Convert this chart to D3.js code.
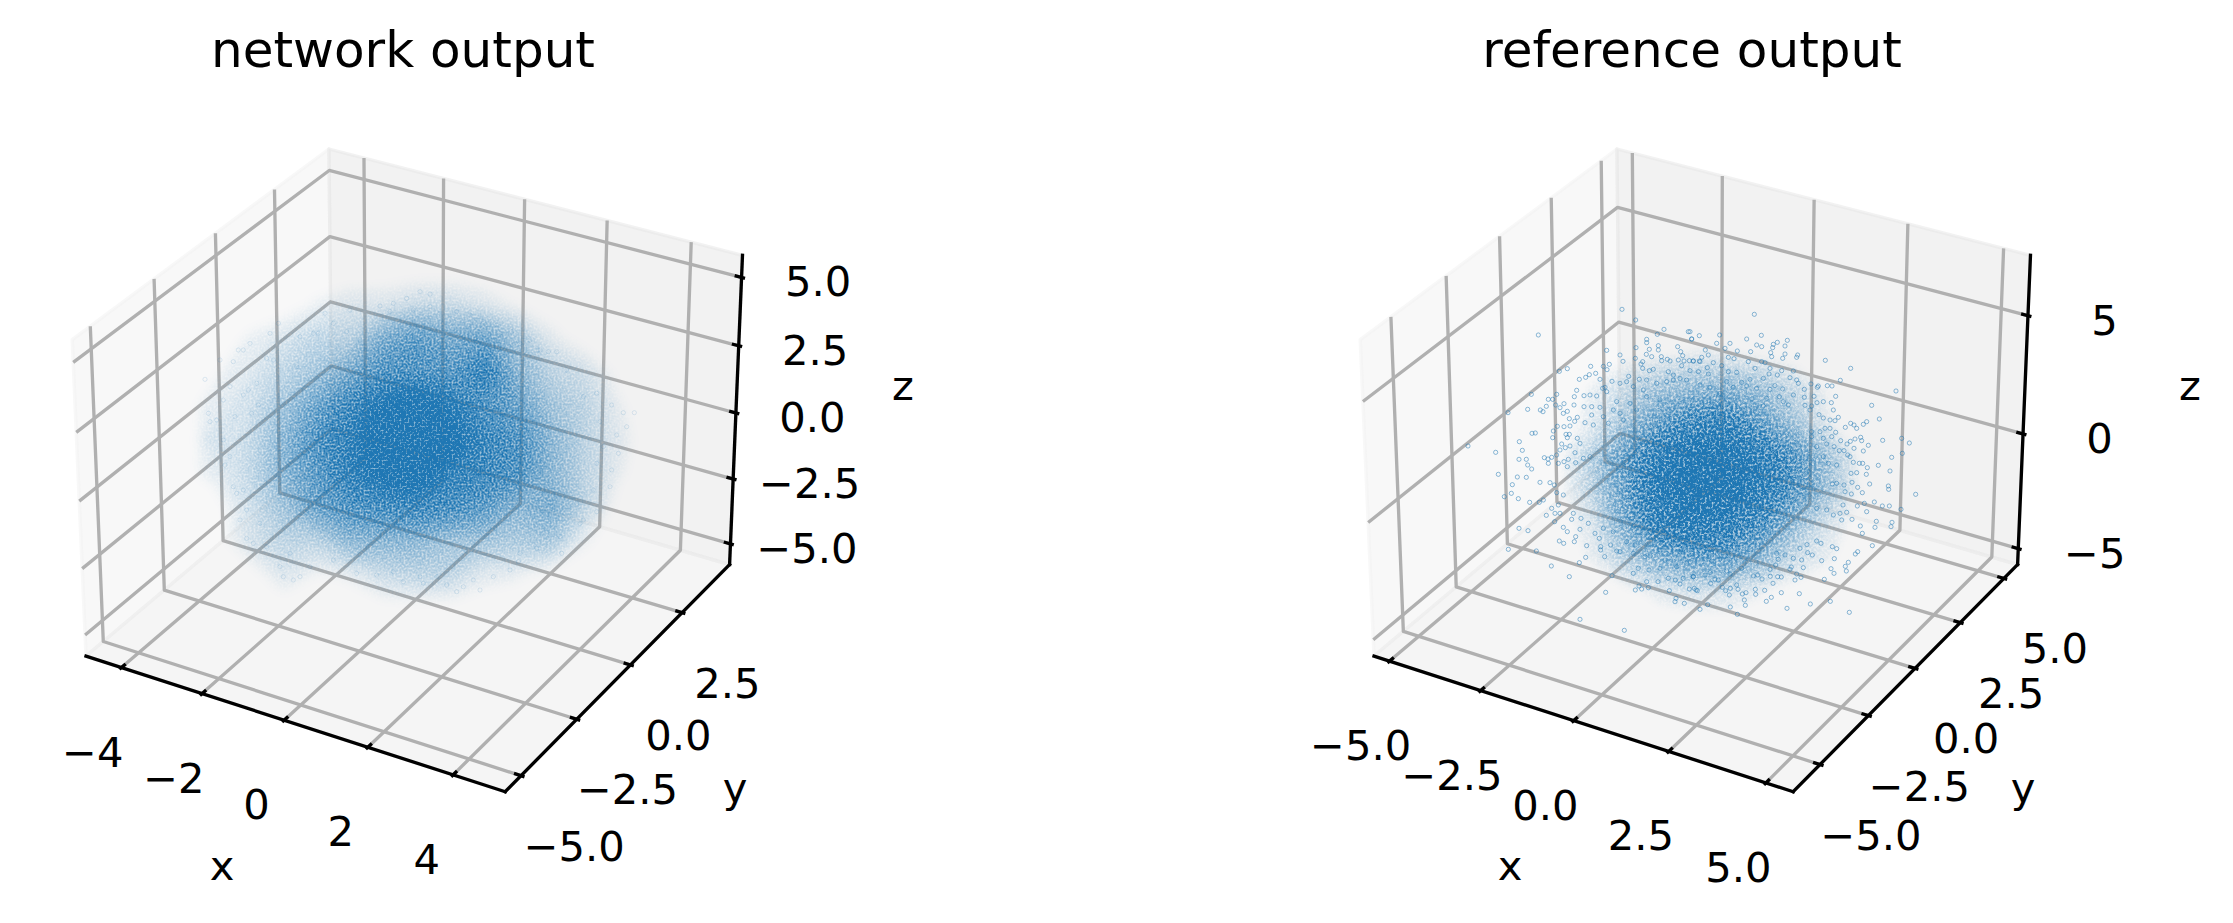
<!DOCTYPE html>
<html><head><meta charset="utf-8">
<script src="https://cdnjs.cloudflare.com/ajax/libs/d3/7.8.5/d3.min.js"></script>
<style>html,body{margin:0;padding:0;background:#fff}svg{display:block}text{font-family:"DejaVu Sans";fill:#000}</style>
</head><body>
<svg id="chart" width="2233" height="923"></svg>
<script>
// ---- axis limits and tick labels
const leftTitle = "network output", rightTitle = "reference output";
const leftXLim = [-4.69, 5.0], leftYLim = [-5.48, 4.68], leftZLim = [-5.57, 5.57];
const rightXLim = [-5.21, 5.47], rightYLim = [-6.11, 5.56], rightZLim = [-5.44, 7.23];
const leftXTicks = [-4, -2, 0, 2, 4], leftYTicks = [-5, -2.5, 0, 2.5], leftZTicks = [-5, -2.5, 0, 2.5, 5];
const rightXTicks = [-5, -2.5, 0, 2.5, 5], rightYTicks = [-5, -2.5, 0, 2.5, 5], rightZTicks = [-5, 0, 5];

// ---- cloud density (0 = empty, 10 = solid), per image-plane cell
const leftDensityU = [50,150,250,350,450,550,650,750,850,950,1050,1150,1250,1350];
const leftDensityV = [-50,50,150,250,350,450,550,650,750,850,950];
const leftDensity = [
 [0,0,0,0,0,0,0,0,0,0,0,0,0,0],
 [0,0,0,.3,.5,.5,.8,.8,.5,.2,0,0,0,0],
 [0,.3,.6,1,1,2.5,3.5,2.5,3,1.5,.4,0,0,0],
 [.2,.5,1,1.5,2.5,4,4,3.5,6,2,1,.7,.1,0],
 [.4,.7,1.5,3,5,8,10,7,4,3,1.5,1,.3,0],
 [.6,.8,2,4,6,10,10,9,5.5,4,2,1,.4,0],
 [.4,.9,2,3.5,6,8.5,10,6,5,4,2,1,.3,0],
 [0,.7,1.5,3,4,4.5,5,4.5,3.5,2,2.5,1,0,0],
 [0,.6,1,1,2,2,2,1.5,1.5,1.3,1.5,.3,0,0],
 [0,0,.5,.2,.3,.8,1,1,.4,.3,0,0,0,0],
 [0,0,0,0,0,0,0,0,0,0,0,0,0,0]];
const rightDensityU = [300,400,500,600,700,800,900,1000,1100,1200];
const rightDensityV = [70,170,270,370,470,570,670,770,870,970];
const rightDensity = [
 [0,0,0,0,0,0,0,0,0,0],
 [0,0,.1,.2,.3,.3,.2,0,0,0],
 [0,.3,.8,1.5,1.8,2,1.5,.8,.2,0],
 [0,.4,1.5,3,4.5,5,3,1.5,.3,0],
 [.1,1.2,3,6,9,8,6,3.5,1.5,.1],
 [.1,1,3,7,10,9,6,3.5,1.5,.1],
 [0,.5,2.5,5.5,7,6,4,1.8,.6,0],
 [0,.3,1.2,2.2,3,3,2,.8,.3,0],
 [0,0,.1,.4,.6,.6,.3,0,0,0],
 [0,0,0,0,0,0,0,0,0,0]];

// ---- individual markers, one list per crop of the image plane
const leftHalo = [[150,160],[115,180],[130,180],[100,215],[60,210],[15,268],[70,330],[130,315],[175,345],[50,390],[25,370],[105,380],[155,370],[30,395],[1270,368],[1303,368],[1235,345],[1280,410],[1250,435],[1255,490],[1235,540],[1230,590],[1190,665],[1150,690],[1085,790],[955,815],[1070,185],[1045,185],[1015,180],[990,150],[935,125],[890,105],[850,95],[810,75],[770,65],[720,70],[690,50],[660,5],[690,12],[620,25],[570,65],[540,48],[580,40],[450,60],[375,70],[235,100],[210,130],[300,140],[340,130],[355,130],[250,860],[280,870],[300,860],[240,830],[530,855],[610,875],[670,880],[740,885],[790,890],[770,905],[840,900],[710,860],[930,840],[120,690],[140,745],[160,760],[90,500],[75,525],[110,610],[130,600],[70,450],[200,205],[220,210],[145,300],[170,280],[90,290],[290,230],[400,100],[440,125],[480,150],[640,60],[730,100],[900,130],[960,160],[1100,240],[1150,320],[1190,310],[1200,395],[1210,470],[1190,520],[1180,600],[1130,640],[1140,700],[1080,740],[1010,775],[960,790],[1020,180],[880,860],[820,870],[660,860],[580,845],[470,850],[400,810],[330,830],[270,790],[200,770],[180,700],[140,660],[100,590]];

const rightTL = [[486,28],[527,60],[235,105],[685,95],[695,117],[612,88],[592,103],[560,118],[560,128],[595,137],[653,140],[528,143],[440,151],[568,148],[595,150],[480,165],[559,163],[662,155],[668,167],[575,170],[604,170],[605,182],[489,184],[526,175],[548,185],[655,180],[672,183],[688,182],[700,183],[718,183],[622,178],[630,183],[543,192],[665,197],[392,199],[448,193],[430,199],[441,209],[322,206],[298,214],[407,220],[388,224],[377,232],[358,238],[420,238],[456,244],[506,229],[538,238],[560,240],[568,212],[580,208],[548,205],[625,215],[640,225],[690,212],[715,215],[350,271],[214,283],[290,283],[343,290],[265,298],[278,298],[390,285],[372,287],[410,288],[312,311],[287,315],[259,319],[203,328],[241,330],[249,335],[144,338],[300,323],[322,334],[310,340],[342,315],[372,320],[395,320],[420,322],[395,345],[352,352],[344,364],[328,356],[375,368],[312,380],[292,379],[330,378],[400,375],[280,393],[216,400],[226,399],[278,413],[318,403],[328,403],[322,413],[178,425],[24,438],[187,451],[107,457],[305,432],[316,443],[345,458],[352,415],[360,430],[330,438],[300,450],[290,465],[253,473],[275,472],[264,477],[265,490],[177,478],[199,478],[203,495],[215,507],[295,490],[325,478],[312,485],[322,500],[347,488],[370,475],[390,470],[435,262],[428,265],[440,275],[470,305],[480,250],[500,245],[520,260],[550,270],[460,330],[480,340],[430,350],[445,370],[490,360],[510,310],[530,330],[560,290],[590,250],[620,245],[640,240],[660,235],[680,240],[600,300]];
const rightTR = [[193,43],[0,95],[28,107],[89,105],[214,106],[170,117],[292,121],[262,127],[5,117],[120,130],[80,130],[105,145],[200,135],[215,140],[250,133],[285,138],[248,143],[142,153],[46,150],[182,155],[242,158],[55,165],[35,172],[115,172],[132,176],[245,170],[285,162],[278,175],[320,172],[323,165],[406,181],[10,183],[30,185],[70,188],[215,185],[225,188],[175,185],[95,197],[52,203],[482,205],[195,205],[240,205],[310,213],[275,212],[262,225],[140,217],[55,222],[115,215],[237,222],[451,241],[300,233],[320,240],[180,238],[220,235],[110,245],[155,247],[363,252],[412,257],[426,258],[385,258],[382,262],[255,257],[278,267],[325,250],[343,268],[618,273],[240,268],[200,265],[170,258],[130,262],[90,280],[60,262],[30,255],[372,289],[437,289],[310,285],[343,292],[268,290],[230,295],[186,297],[545,316],[400,305],[424,308],[381,308],[280,305],[365,318],[345,316],[295,315],[220,318],[195,325],[430,330],[387,344],[400,354],[445,352],[360,330],[568,357],[420,360],[435,362],[530,365],[520,373],[482,370],[492,375],[466,382],[500,385],[405,385],[420,385],[390,395],[437,397],[365,395],[635,415],[578,421],[512,412],[495,417],[515,422],[658,429],[400,415],[425,410],[452,422],[481,424],[471,432],[535,436],[637,460],[605,472],[520,453],[448,452],[462,452],[492,445],[473,465],[432,440],[410,432],[490,487],[508,490],[518,490],[565,496],[532,503],[480,470],[400,470],[415,490],[440,495],[380,440],[365,410]];
const rightBL = [[115,13],[172,21],[199,22],[157,44],[240,37],[270,38],[283,45],[133,80],[154,70],[175,86],[209,97],[238,97],[250,90],[290,68],[310,75],[275,115],[295,105],[259,136],[285,130],[300,130],[335,148],[284,155],[363,145],[385,160],[340,130],[177,175],[204,182],[310,172],[322,185],[360,178],[298,213],[311,220],[343,215],[347,200],[380,227],[145,238],[229,243],[422,230],[422,240],[452,225],[470,243],[434,260],[377,262],[358,278],[274,288],[328,320],[456,317],[437,367],[526,360],[545,357],[565,353],[537,348],[360,448],[493,481],[594,335],[625,325],[646,330],[660,342],[628,362],[645,395],[673,400],[648,385],[520,310],[535,295],[567,300],[600,295],[560,335],[480,245],[520,250],[570,258],[615,270],[680,280],[700,320],[688,357],[703,355],[712,362],[418,205],[405,190],[430,175],[460,185],[500,215],[525,225],[555,260],[600,240],[650,290],[670,325]];
const rightBR = [[600,3],[677,73],[595,48],[596,58],[539,42],[529,13],[500,8],[483,10],[503,52],[517,68],[486,37],[462,45],[440,40],[427,42],[465,65],[484,72],[553,96],[577,108],[598,108],[523,100],[502,108],[633,118],[530,125],[459,105],[470,127],[450,130],[559,154],[606,157],[603,170],[555,172],[511,168],[486,148],[455,150],[430,135],[410,120],[380,115],[517,190],[547,227],[503,245],[496,252],[440,236],[427,230],[433,266],[395,272],[475,277],[466,289],[423,296],[469,303],[432,310],[403,328],[340,293],[367,255],[353,248],[330,235],[393,220],[380,213],[351,224],[421,394],[478,427],[361,402],[328,371],[291,415],[229,394],[244,382],[274,368],[224,361],[196,358],[197,373],[168,368],[157,372],[163,390],[166,406],[121,411],[142,433],[30,418],[53,404],[118,375],[107,362],[97,352],[121,355],[144,358],[140,345],[18,360],[62,340],[75,328],[85,330],[190,318],[203,315],[216,327],[241,319],[263,320],[274,321],[249,340],[333,322],[315,330],[320,312],[300,298],[304,291],[240,298],[257,285],[110,303],[120,312],[155,295],[265,268],[260,250],[285,255],[310,265],[335,270],[10,320],[45,315],[60,308]];

// ---- drawing
const BLUE = "#1f77b4", GRID = "#b0b0b0", LW = 3.33;
const svg = d3.select("#chart");

// grain filter: gives the solid density fields the speckle of overlapping tiny markers
const defs = svg.append("defs");
function grainFilter(id, blur, k1, k2, freq) {
  const f = defs.append("filter").attr("id", id).attr("filterUnits","userSpaceOnUse")
    .attr("x",0).attr("y",0).attr("width",2233).attr("height",923)
    .attr("color-interpolation-filters","sRGB");
  f.append("feGaussianBlur").attr("in","SourceGraphic").attr("stdDeviation",blur).attr("result","b");
  f.append("feTurbulence").attr("type","fractalNoise").attr("baseFrequency",freq).attr("numOctaves",2).attr("seed",4).attr("result","n");
  f.append("feColorMatrix").attr("in","n").attr("type","matrix")
    .attr("values","0 0 0 0 1  0 0 0 0 1  0 0 0 0 1  2.4 0 0 0 -0.55").attr("result","na");
  f.append("feComposite").attr("in","b").attr("in2","na").attr("operator","arithmetic")
    .attr("k1",k1).attr("k2",k2).attr("k3",0).attr("k4",0).attr("result","m");
  f.append("feFlood").attr("flood-color",BLUE).attr("result","c");
  f.append("feComposite").attr("in","c").attr("in2","m").attr("operator","in");
}
grainFilter("grainL", 6, 0.9, 0.5, 0.5);
grainFilter("grainR", 4, 1.2, 0.35, 0.42);

function makeProjection(xlim, ylim, zlim) {
  const ext = l => { const d = (l[1]-l[0])/48; return [l[0]-d, l[1]+d]; };
  const X = ext(xlim), Y = ext(ylim), Z = ext(zlim);
  const k = 1.8294640721620434 / Math.hypot(4,4,3);
  const wx = d3.scaleLinear().domain(xlim).range([0,4*k]);
  const wy = d3.scaleLinear().domain(ylim).range([0,4*k]);
  const wz = d3.scaleLinear().domain(zlim).range([0,3*k]);
  const R = [2*k,2*k,1.5*k], dist = 11, el = 30*Math.PI/180, az = -60*Math.PI/180;
  const n = [Math.cos(el)*Math.cos(az), Math.cos(el)*Math.sin(az), Math.sin(el)];
  const E = R.map((r,i)=>r+dist*n[i]);
  const cross=(a,b)=>[a[1]*b[2]-a[2]*b[1],a[2]*b[0]-a[0]*b[2],a[0]*b[1]-a[1]*b[0]];
  const dot=(a,b)=>a[0]*b[0]+a[1]*b[1]+a[2]*b[2];
  let u = cross([0,0,1],n); const ul=Math.hypot(...u); u=u.map(d=>d/ul);
  const v = cross(n,u);
  const p2 = (x,y,z)=>{ const d=[wx(x)-E[0],wy(y)-E[1],wz(z)-E[2]];
    const w=-dot(n,d); return [dot(u,d)/w, dot(v,d)/w]; };
  return {X,Y,Z,p2};
}

function panel(o) {
  const g = svg.append("g");
  const P = makeProjection(o.xlim,o.ylim,o.zlim), {X,Y,Z} = P;
  const sx = d3.scaleLinear().domain([P.p2(X[0],Y[0],Z[0])[0], P.p2(X[1],Y[1],Z[0])[0]]).range([o.dx+86, o.dx+729.6]);
  const sy = d3.scaleLinear().domain([P.p2(X[1],Y[0],Z[0])[1], P.p2(X[0],Y[1],Z[1])[1]]).range([791.7,149]);
  const S = (x,y,z)=>{const p=P.p2(x,y,z); return [sx(p[0]),sy(p[1])];};
  const line = d3.line();
  // panes
  const panes = [
    {c:"rgb(242,242,242)", pts:[[X[0],Y[0],Z[0]],[X[0],Y[1],Z[0]],[X[0],Y[1],Z[1]],[X[0],Y[0],Z[1]]]},
    {c:"rgb(230,230,230)", pts:[[X[0],Y[1],Z[0]],[X[1],Y[1],Z[0]],[X[1],Y[1],Z[1]],[X[0],Y[1],Z[1]]]},
    {c:"rgb(236,236,236)", pts:[[X[0],Y[0],Z[0]],[X[1],Y[0],Z[0]],[X[1],Y[1],Z[0]],[X[0],Y[1],Z[0]]]}];
  g.selectAll("path.pane").data(panes).join("path").attr("class","pane")
    .attr("d",d=>line(d.pts.map(p=>S(...p)))+"Z")
    .attr("fill",d=>d.c).attr("fill-opacity",.5)
    .attr("stroke",d=>d.c).attr("stroke-opacity",.5).attr("stroke-width",LW).attr("stroke-linejoin","round");
  // grid
  const grid = [
    ...o.xt.map(t=>[[t,Y[0],Z[0]],[t,Y[1],Z[0]],[t,Y[1],Z[1]]]),
    ...o.yt.map(t=>[[X[1],t,Z[0]],[X[0],t,Z[0]],[X[0],t,Z[1]]]),
    ...o.zt.map(t=>[[X[0],Y[0],t],[X[0],Y[1],t],[X[1],Y[1],t]])];
  g.selectAll("path.grid").data(grid).join("path").attr("class","grid")
    .attr("d",d=>line(d.map(p=>S(...p)))).attr("fill","none")
    .attr("stroke",GRID).attr("stroke-width",LW).attr("stroke-linejoin","round");
  // axes
  const axes = [[[X[0],Y[0],Z[0]],[X[1],Y[0],Z[0]]],[[X[1],Y[0],Z[0]],[X[1],Y[1],Z[0]]],[[X[1],Y[1],Z[0]],[X[1],Y[1],Z[1]]]];
  g.selectAll("path.axis").data(axes).join("path").attr("class","axis")
    .attr("d",d=>line(d.map(p=>S(...p)))).attr("fill","none")
    .attr("stroke","#000").attr("stroke-width",LW).attr("stroke-linecap","square");
  // ticks and labels (the label offset drifts slightly along each axis)
  const dxT=(o.xlim[1]-o.xlim[0])/12, dyT=(o.ylim[1]-o.ylim[0])/12;
  const fxA=d3.scaleLinear().domain(X).range([0,1]), fyA=d3.scaleLinear().domain(Y).range([0,1]);
  const ticks = [
    ...o.xt.map(t=>({a:[t,Y[0]+.2*dyT,Z[0]],b:[t,Y[0]-.1*dyT,Z[0]],at:[t,Y[0],Z[0]],off:[o.xo[0]+o.xo[1]*fxA(t),84],s:o.fx(t)})),
    ...o.yt.map(t=>({a:[X[1]-.2*dxT,t,Z[0]],b:[X[1]+.1*dxT,t,Z[0]],at:[X[1],t,Z[0]],off:[o.yo[0]+o.yo[1]*fyA(t),70],s:o.fy(t)})),
    ...o.zt.map(t=>({a:[X[1]-.2*dxT,Y[1],t],b:[X[1]+.1*dxT,Y[1],t],at:[X[1],Y[1],t],off:[76.5,4],s:o.fz(t)}))];
  g.selectAll("path.tick").data(ticks).join("path").attr("class","tick")
    .attr("d",d=>line([S(...d.a),S(...d.b)])).attr("stroke","#000").attr("stroke-width",LW);
  g.selectAll("text.tl").data(ticks).join("text").attr("class","tl")
    .attr("x",d=>S(...d.at)[0]+d.off[0]).attr("y",d=>S(...d.at)[1]+d.off[1]+15)
    .attr("text-anchor","middle").attr("font-size",41.67).text(d=>d.s);
  // axis names and title
  const names=[["x",o.dx+222,880],["y",o.dx+735,802],["z",o.dx+903-(o.dx?1:0),400]];
  g.selectAll("text.an").data(names).join("text").attr("class","an")
    .attr("x",d=>d[1]).attr("y",d=>d[2]).attr("text-anchor","middle").attr("font-size",41.67).text(d=>d[0]);
  g.append("text").attr("x",o.tx).attr("y",67).attr("text-anchor","middle").attr("font-size",50).text(o.title);
  // density field of the cloud
  const m=o.dens, nx=m[0].length, ny=m.length;
  const gu=d3.scaleLinear().domain([.5,nx-.5]).range([o.du[0],o.du[nx-1]]);
  const gv=d3.scaleLinear().domain([.5,ny-.5]).range([o.dv[0],o.dv[ny-1]]);
  const ux=d3.scaleLinear().domain(o.uDom).range(o.uRange), vy=d3.scaleLinear().domain(o.vDom).range(o.vRange);
  const th=d3.range(.25,6,.25).concat(d3.range(6,10.01,.1));
  const cont=d3.contours().size([nx,ny]).thresholds(th)(m.flat());
  const geo=d3.geoPath(d3.geoTransform({point(x,y){this.stream.point(ux(gu(x)),vy(gv(y)));}}));
  g.append("g").attr("filter",`url(#${o.filter})`).selectAll("path").data(cont).join("path")
    .attr("d",geo).attr("fill",BLUE).attr("fill-opacity",o.levelAlpha);
  // individual markers
  o.pointSets.forEach(s=>{
    const fu=d3.scaleLinear().domain(s.du).range(s.ru), fv=d3.scaleLinear().domain(s.dv).range(s.rv);
    g.append("g").selectAll("circle").data(s.pts).join("circle")
      .attr("cx",d=>fu(d[0])).attr("cy",d=>fv(d[1])).attr("r",2.1)
      .attr("fill","none").attr("stroke",BLUE).attr("stroke-width",1).attr("stroke-opacity",o.ptAlpha);
  });
}
const f0=v=>String(v).replace("-","\u2212"), f1=v=>v.toFixed(1).replace("-","\u2212");
panel({dx:0,tx:403,title:leftTitle,xlim:leftXLim,ylim:leftYLim,zlim:leftZLim,xt:leftXTicks,yt:leftYTicks,zt:leftZTicks,xo:[-29,3],yo:[54,-11],
  fx:f0,fy:f1,fz:f1,dens:leftDensity,du:leftDensityU,dv:leftDensityV,uDom:[0,1320],uRange:[200,640],vDom:[0,930],vRange:[290,600],
  filter:"grainL",levelAlpha:.075,ptAlpha:.13,
  pointSets:[{pts:leftHalo,du:[0,1320],ru:[200,640],dv:[0,930],rv:[290,600]}]});
panel({dx:1288,tx:1692,title:rightTitle,xlim:rightXLim,ylim:rightYLim,zlim:rightZLim,xt:rightXTicks,yt:rightYTicks,zt:rightZTicks,xo:[-29,1.5],yo:[51,0],
  fx:f1,fy:f1,fz:f0,dens:rightDensity,du:rightDensityU,dv:rightDensityV,uDom:[0,1440],uRange:[1460,1940],vDom:[0,1020],vRange:[300,640],
  filter:"grainR",levelAlpha:.07,ptAlpha:.5,
  pointSets:[
   {pts:rightTL,du:[0,720],ru:[1460,1700],dv:[0,510],rv:[300,470]},
   {pts:rightTR,du:[0,720],ru:[1690,1930],dv:[0,510],rv:[300,470]},
   {pts:rightBL,du:[0,720],ru:[1460,1700],dv:[0,510],rv:[470,640]},
   {pts:rightBR,du:[0,720],ru:[1690,1930],dv:[0,510],rv:[470,640]}]});
</script>
</body></html>
